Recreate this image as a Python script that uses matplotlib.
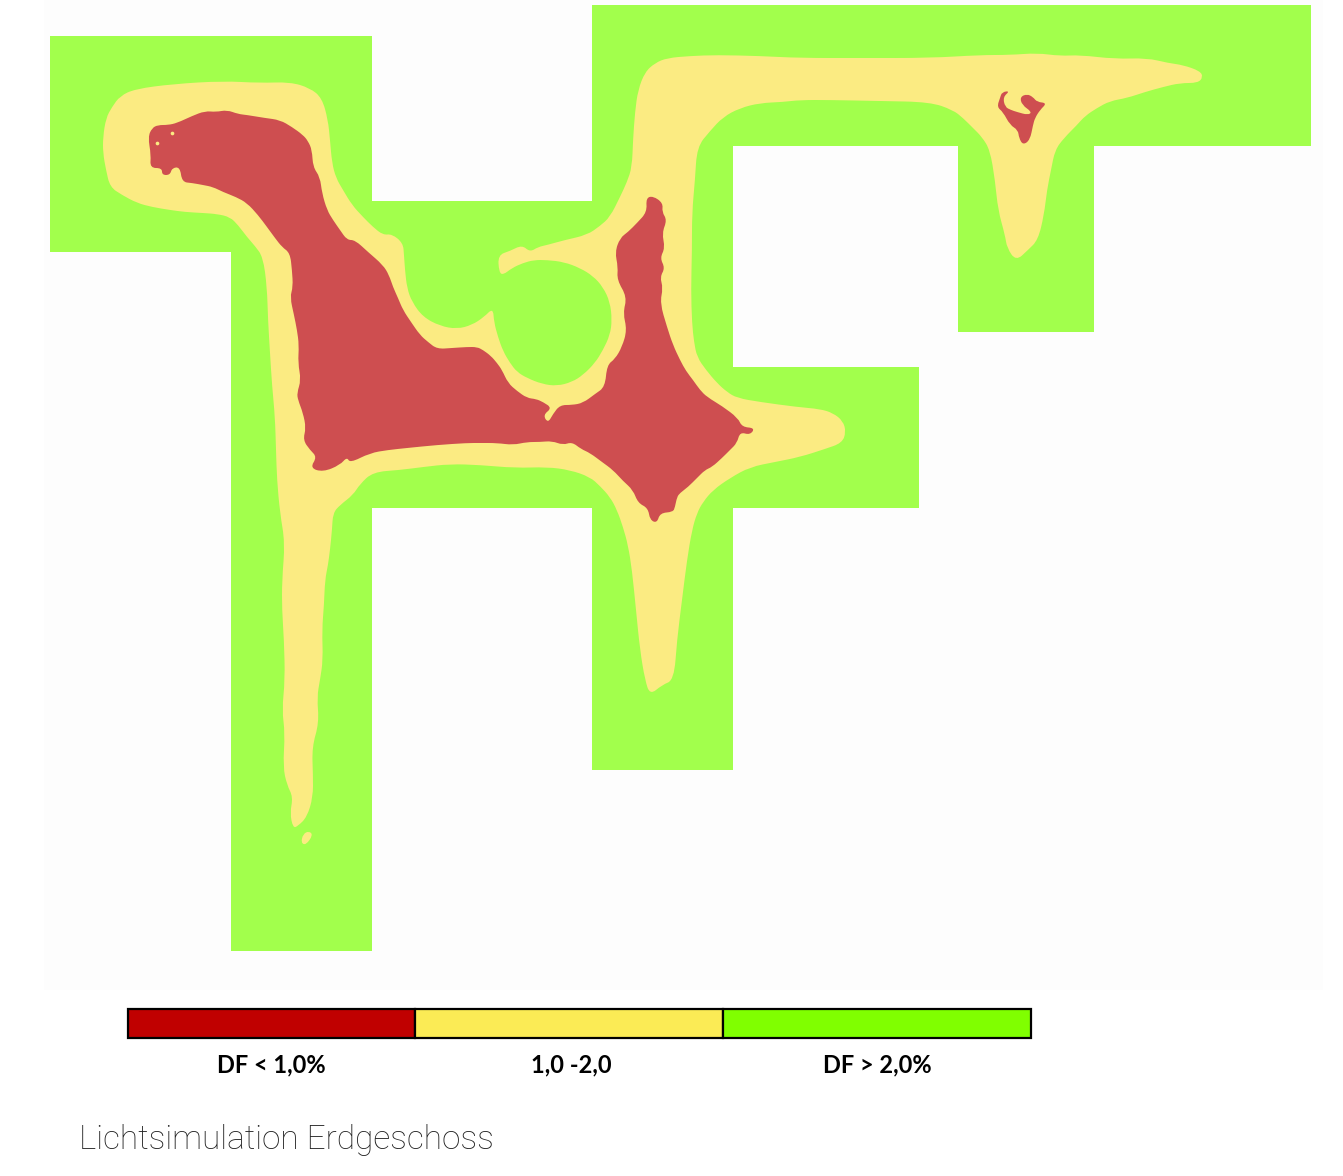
import matplotlib
matplotlib.use("Agg")
import matplotlib.pyplot as plt
from matplotlib.patches import PathPatch, Polygon, Rectangle
from matplotlib.path import Path

# floor plan, all in image pixels
floor_outline = [(50,36),(372,36),(372,201),(592,201),(592,5),(1311,5),(1311,146),(1094,146),(1094,332),
                 (958,332),(958,146),(733,146),(733,367),(919,367),(919,508),(733,508),(733,770),(592,770),
                 (592,508),(372,508),(372,951),(231,951),(231,252),(50,252)]

yellow_zone = [(103,137),(106,118),(112,107),(120,96),(135,89),(173,84),(223,81),(260,83),(290,82),(310,88),(322,98),
               (328,120),(330,140),(332,163),(336,178),(343,190),(352,205),(363,217),(373,227),(383,235),(392,234),
               (403,243),(404,255),(405,270),(407,288),(412,302),(423,317),(440,326),(457,329),(472,325),(484,317),
               (493,308),(494,322),(498,337),(503,351),(510,363),(517,372),(527,378),(542,384),(557,386),(572,382),
               (583,375),(595,363),(603,350),(610,335),(612,320),(610,302),(603,287),(593,276),(580,268),(564,262),
               (547,260),(534,260),(523,263),(512,268),(503,275),(499,272),(498,255),(510,251),(522,245),(530,252),
               (538,247),(547,245),(565,240),(587,235),(600,226),(610,217),(620,197),(627,182),(632,167),(633,140),
               (635,112),(638,90),(645,72),(655,63),(667,58),(690,56),(717,55),(760,56),(800,58),(860,58),(930,58),
               (980,55),(1010,55),(1037,53),(1060,56),(1080,55),(1115,59),(1147,58),(1168,63),(1183,65),(1200,71),
               (1203,77),(1198,83),(1180,83),(1163,87),(1145,92),(1127,98),(1110,101),(1097,108),(1085,116),(1077,125),
               (1064,138),(1055,150),(1051,170),(1047,190),(1044,215),(1038,240),(1028,250),(1016,261),(1007,248),
               (1005,235),(998,210),(995,180),(990,150),(982,137),(973,128),(963,118),(953,110),(930,102),(880,101),
               (830,100),(800,100),(783,102),(760,103),(740,108),(723,117),(710,131),(697,147),(695,180),(692,213),
               (692,250),(691,290),(692,323),(694,342),(697,357),(706,370),(717,383),(727,392),(737,398),(760,402),
               (797,407),(820,409),(833,413),(843,421),(846,432),(842,443),(825,449),(800,457),(775,462),(750,467),
               (730,478),(713,490),(703,502),(697,513),(692,530),(687,560),(682,600),(677,640),(674,680),(662,685),
               (650,695),(645,680),(640,650),(636,610),(632,570),(628,545),(623,527),(617,510),(610,497),(600,486),
               (590,477),(570,470),(547,467),(515,468),(480,465),(450,464),(423,467),(400,470),(373,472),(360,484),
               (353,495),(340,505),(333,513),(332,530),(330,550),(328,565),(325,580),(324,605),(322,630),(323,660),
               (320,680),(317,697),(319,723),(312,747),(313,775),(313,797),(307,817),(298,826),(293,828),(290,813),
               (293,797),(287,785),(283,767),(285,733),(282,710),(285,680),(284,640),(282,610),(282,580),(285,543),
               (280,513),(277,480),(276,450),(275,417),(272,385),(270,353),(268,320),(267,287),(263,257),(255,246),
               (247,237),(238,225),(230,217),(217,214),(203,213),(185,212),(170,210),(152,207),(137,203),(122,195),
               (110,187),(106,170),(103,153)]
yellow_island = [(301,843),(306,845),(313,835),(309,831),(303,834)]

red_main = [(148,137),(152,128),(158,125),(168,125),(177,123),(192,116),(205,111),(216,112),(227,110),(238,114),
            (247,115),(265,118),(280,120),(292,127),(303,135),(308,141),(312,150),(313,167),(320,177),(322,193),
            (327,210),(333,220),(340,230),(347,240),(355,240),(368,252),(383,265),(389,275),(393,287),(398,298),
            (403,310),(411,322),(420,335),(428,342),(437,349),(452,348),(467,347),(477,347),(483,350),(491,356),
            (497,363),(502,370),(508,383),(517,391),(527,398),(536,399),(543,402),(552,408),(543,415),(548,423),
            (553,414),(560,405),(572,405),(583,403),(595,394),(605,387),(607,365),(615,359),(622,347),(627,330),
            (623,313),(627,297),(617,280),(618,267),(615,252),(620,238),(628,232),(637,223),(647,212),(646,198),
            (653,196),(663,203),(662,212),(667,220),(662,233),(665,248),(660,258),(665,268),(660,277),(663,288),
            (660,303),(667,327),(673,345),(680,360),(686,371),(693,380),(700,390),(707,397),(722,406),(738,418),
            (742,427),(755,428),(750,435),(740,432),(737,443),(730,450),(722,458),(712,467),(705,470),(697,478),
            (688,487),(680,493),(677,497),(675,507),(673,512),(660,513),(657,523),(650,520),(648,508),(638,503),
            (633,490),(623,481),(613,470),(602,462),(590,453),(581,449),(572,442),(563,445),(552,441),(540,442),
            (527,442),(513,445),(497,443),(480,443),(467,443),(437,445),(407,448),(388,450),(370,453),(350,463),
            (347,457),(340,465),(323,472),(310,468),(317,457),(310,450),(303,440),(306,428),(303,413),(298,400),
            (297,393),(301,380),(298,363),(299,345),(297,330),(294,315),(290,297),(293,287),(292,270),(290,253),
            (282,247),(275,238),(267,227),(258,215),(247,203),(236,197),(223,192),(213,187),(203,185),(192,183),
            (182,182),(180,167),(172,168),(170,175),(162,175),(162,168),(150,168),(151,155)]
red_small = [(997,107),(1000,98),(1002,92),(1010,91),(1003,97),(1005,107),(1011,110),(1017,112),(1028,115),
             (1032,112),(1022,105),(1020,97),(1027,94),(1033,97),(1037,102),(1047,103),(1040,110),(1035,118),
             (1033,125),(1030,140),(1023,145),(1019,138),(1018,130),(1010,125),(1003,112)]
red_specks = [(157,143), (172,133)]

legend_labels = ["DF < 1,0%", "1,0 -2,0", "DF > 2,0%"]
legend_colors = ["#c00000", "#fbeb55", "#80ff00"]
legend_edges = [128, 415, 723, 1031]
legend_centers = [271, 571, 877]
title = "Lichtsimulation Erdgeschoss"


def rounded(points):
    # traced points act as control points, so the outline gets soft like the image
    codes = [Path.MOVETO]
    verts = [((points[-1][0]+points[0][0])/2, (points[-1][1]+points[0][1])/2)]
    for i in range(len(points)):
        next_pt = points[(i+1) % len(points)]
        verts += [points[i], ((points[i][0]+next_pt[0])/2, (points[i][1]+next_pt[1])/2)]
        codes += [Path.CURVE3, Path.CURVE3]
    return Path(verts, codes)


fig = plt.figure(figsize=(13.43, 11.76), dpi=100)
ax = fig.add_axes([0, 0, 1, 1])
ax.set_xlim(0, 1343)
ax.set_ylim(1176, 0)
ax.axis("off")

ax.add_patch(Rectangle((44, 0), 1279, 990, fc="#fdfdfd", ec="none"))
ax.add_patch(Polygon(floor_outline, fc="#a2ff4c", ec="none"))
ax.add_patch(PathPatch(rounded(yellow_zone), fc="#fbeb82", ec="none"))
ax.add_patch(PathPatch(rounded(yellow_island), fc="#fbeb82", ec="none"))
ax.add_patch(PathPatch(rounded(red_main), fc="#ce4e50", ec="none"))
ax.add_patch(PathPatch(rounded(red_small), fc="#ce4e50", ec="none"))
ax.scatter(*zip(*red_specks), s=7, c="#fbeb82", linewidths=0)

for i in range(3):
    ax.add_patch(Rectangle((legend_edges[i], 1009), legend_edges[i+1]-legend_edges[i], 29,
                           fc=legend_colors[i], ec="black", lw=1.6))
    ax.text(legend_centers[i], 1065, legend_labels[i], ha="center", va="center",
            fontsize=17, family="Lato", weight="bold", color="black")

ax.text(79, 1140, title, ha="left", va="center", fontsize=24, family="Roboto", weight="light", color="#222222")

fig.savefig("out.png", dpi=100)
